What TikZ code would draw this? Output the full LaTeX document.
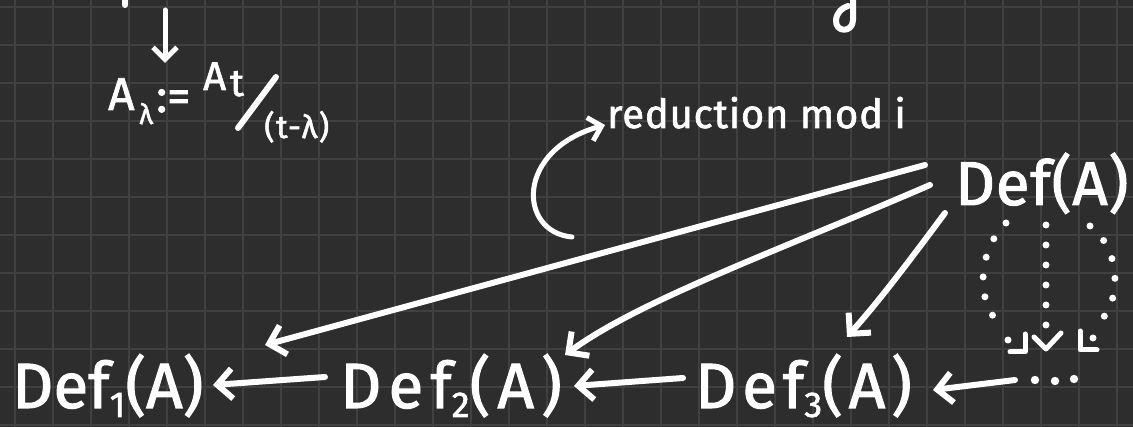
\documentclass[tikz,border=0pt]{standalone}
\usepackage{fontspec}
\setmainfont{Fira Sans}
\newfontfamily\medfont{Fira Sans}[FakeBold=1.6]
\usetikzlibrary{arrows.meta}
\definecolor{bg}{RGB}{45,45,45}
\definecolor{gridc}{RGB}{64,64,64}
\newcommand{\lsp}[1]{\addfontfeatures{LetterSpace=#1}}
\begin{document}
\begin{tikzpicture}[x=1pt,y=-1pt,
  ink/.style={draw=white, line width=6pt, line cap=round, line join=round},
  arr/.style={ink, -{Straight Barb[length=15pt,width=30pt]}},
  small/.style={ink, line width=5pt, -{Straight Barb[length=12pt,width=24pt]}},
  txt/.style={text=white, inner sep=0pt, anchor=base west},
  big/.style={txt, font=\fontsize{64}{64}\medfont},
  dots/.style={draw=white, line width=7pt, line cap=round, dash pattern=on 0pt off 20pt}]
\useasboundingbox (0,0) rectangle (1133,427);
\clip (0,0) rectangle (1133,427);
\fill[bg] (0,0) rectangle (1133,427);
\foreach \x in {15,53,...,1133} \draw[gridc, line width=1.6pt] (\x,0) -- (\x,427);
\foreach \y in {7,45,...,427} \draw[gridc, line width=1.6pt] (0,\y) -- (1133,\y);

% top fragments
\draw[ink] (125,-5) -- (125,5);
\draw[ink] (853,-5) -- (853,20) .. controls (853,33) and (835,33) .. (836,20) .. controls (837,12) and (842,8) .. (848,6);

% A_lambda := A_t/(t-lambda)
\coordinate (topA) at (165,10);
\node[txt, font=\fontsize{46}{46}\medfont] (al) at (108,110) {A};
\node[txt, font=\fontsize{28}{28}\medfont] (lam) at (139,124) {λ};
\node[txt, font=\fontsize{46}{46}\medfont] (defeq) at (156,112) {:=};
\node[txt, font=\fontsize{40}{40}\medfont] (at) at (203,90) {A};
\node[txt, font=\fontsize{38}{38}\medfont] (tt) at (230,96) {t};
\node[txt, font=\fontsize{32}{32}\medfont\lsp{5}] (tl) at (264,138) {(t-λ)};
\draw[ink] ([shift={(-26,-10)}]tl.base west) -- ([shift={(12,-61)}]tl.base west);
\draw[small] (topA) -- ([shift={(57,-47)}]al.base west);

% main nodes
\node[txt, font=\fontsize{62}{62}\medfont] (def) at (955,205) {\lsp{1}Def(A)};
\node[txt, font=\fontsize{40}{40}\medfont] (red) at (607,128) {\lsp{2}reduction mod i};
\node[big] (def1) at (12,408) {Def\raisebox{-9pt}{\fontsize{36}{36}\selectfont 1}(A)};
\node[big] (def2) at (340,408) {\lsp{11}Def\raisebox{-9pt}{\fontsize{36}{36}\selectfont 2}(A)};
\node[big] (def3) at (695,408) {\lsp{9}Def\raisebox{-9pt}{\fontsize{36}{36}\selectfont 3}(A)};

% curved arrow to label
\draw[small] ([shift={(-35,109)}]red.base west) .. controls (518,232) and (515,150) .. ([shift={(-2,-3)}]red.base west);

% arrows from Def(A)
\draw[arr] ([shift={(-30,-40)}]def.base west) -- ([shift={(253,-63)}]def1.base west);
\draw[arr] ([shift={(-25,-20)}]def.base west) .. controls (780,250) and (640,300) .. ([shift={(225,-53)}]def2.base west);
\draw[arr] ([shift={(-10,8)}]def.base west) .. controls (910,260) and (880,300) .. ([shift={(152,-71)}]def3.base west);

% bottom chain
\draw[arr] ([shift={(-15,-31)}]def2.base west) -- ([shift={(201,-23)}]def1.base west);
\draw[arr] ([shift={(-12,-30)}]def3.base west) -- ([shift={(234,-22)}]def2.base west);
\coordinate (dotsend) at (1015,380);
\draw[arr] (dotsend) -- ([shift={(238,-18)}]def3.base west);
\foreach \p in {(1035,380),(1055,381),(1074,379)} \fill[white] \p circle (4.2pt);

% dotted family of arrows
\draw[dots] (1006,223) .. controls (978,250) and (976,300) .. (998,322);
\draw[dots] (1046,225) -- (1046,330);
\draw[dots] (1090,226) .. controls (1122,250) and (1120,300) .. (1102,319);
\draw[ink, line width=5pt] (1010,352) -- (1025,352) -- (1025,334);
\fill[white] (1008,340) circle (3.5pt);
\draw[ink, line width=5pt] (1034,337) -- (1046,349) -- (1061,333);
\draw[ink, line width=5pt] (1080,331) -- (1080,350) -- (1097,350);
\fill[white] (1093,338) circle (3.5pt);
\end{tikzpicture}
\end{document}
